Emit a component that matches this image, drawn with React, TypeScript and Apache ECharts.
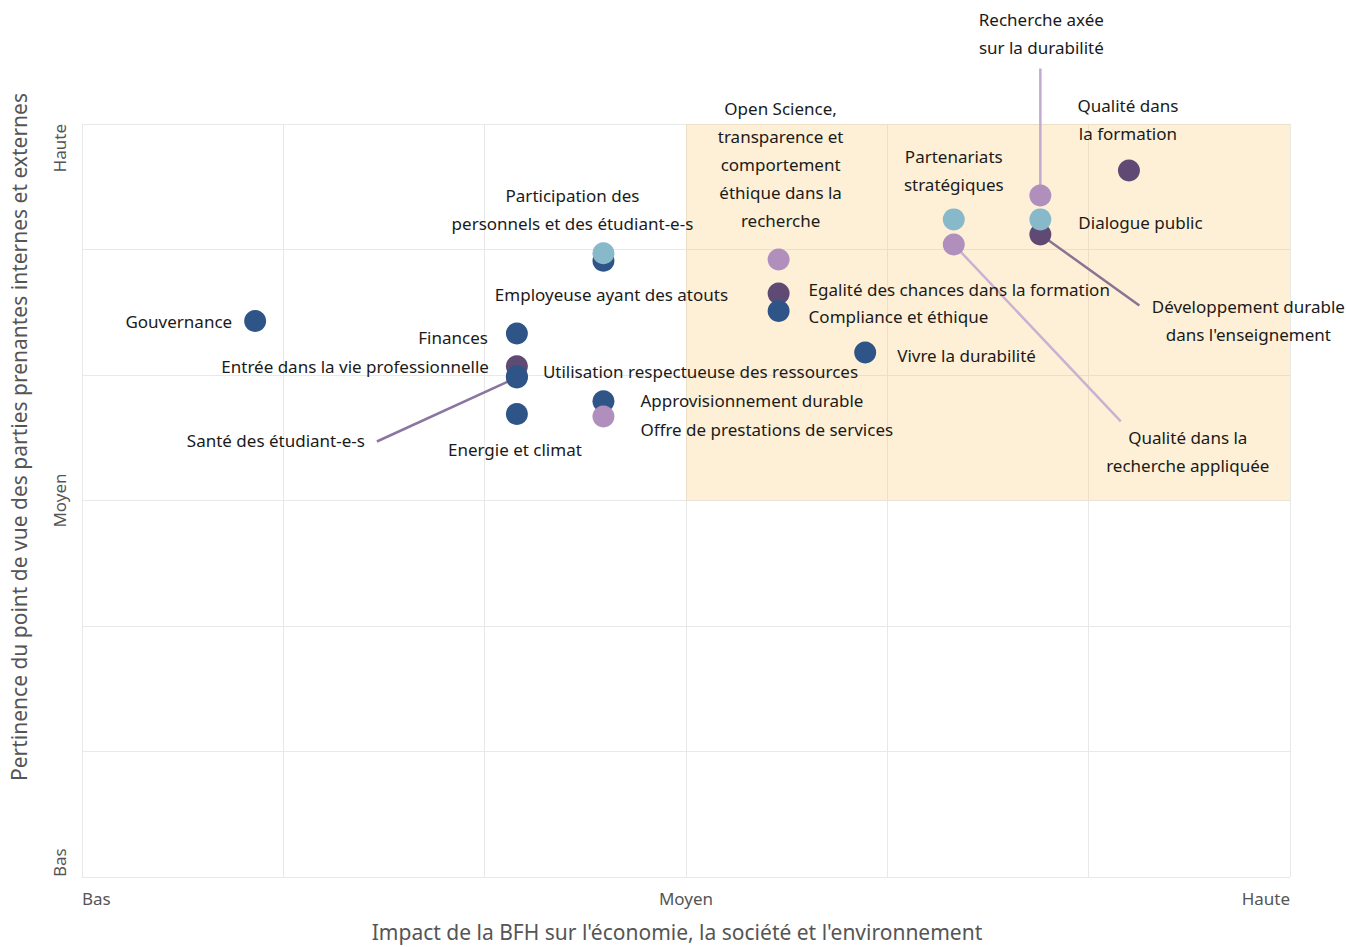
import React, { useEffect, useRef } from "react";
import * as echarts from "echarts";

// ---- Data ----
const labels: string[] = [
  "Gouvernance",
  "Finances",
  "Entrée dans la vie professionnelle",
  "Santé des étudiant-e-s",
  "Utilisation respectueuse des ressources",
  "Energie et climat",
  "Approvisionnement durable",
  "Offre de prestations de services",
  "Employeuse ayant des atouts",
  "Participation des\npersonnels et des étudiant-e-s",
  "Open Science,\ntransparence et\ncomportement\néthique dans la\nrecherche",
  "Egalité des chances dans la formation",
  "Compliance et éthique",
  "Vivre la durabilité",
  "Partenariats\nstratégiques",
  "Qualité dans la\nrecherche appliquée",
  "Recherche axée\nsur la durabilité",
  "Développement durable\ndans l'enseignement",
  "Dialogue public",
  "Qualité dans\nla formation",
];
const impact: number[] = [0.86, 2.16, 2.16, 2.16, 2.16, 2.16, 2.59, 2.59, 2.59, 2.59, 3.46, 3.46, 3.46, 3.89, 4.33, 4.33, 4.76, 4.76, 4.76, 5.2];
const relevance: number[] = [4.43, 4.33, 4.07, 3.98, 3.99, 3.69, 3.79, 3.67, 4.91, 4.97, 4.92, 4.65, 4.51, 4.18, 5.24, 5.04, 5.43, 5.12, 5.24, 5.63];
const groups: string[] = [
  "blue", "blue", "darkPurple", "blue", "blue", "blue", "blue", "lightPurple", "blue", "lightBlue",
  "lightPurple", "darkPurple", "blue", "blue", "lightBlue", "lightPurple", "lightPurple", "darkPurple", "lightBlue", "darkPurple",
];
const axisTicks: Record<number, string> = { 0: "Bas", 3: "Moyen", 6: "Haute" };
const focusArea = { xFrom: 3, xTo: 6, yFrom: 3, yTo: 6 };

// ---- Styles ----
const groupColors: Record<string, string> = {
  blue: "#2f5588",
  darkPurple: "#5f4a74",
  lightPurple: "#b08fbd",
  lightBlue: "#87b9cb",
};
// label offsets (px from point centre)
const labelLayouts: { dx: number; dy: number; align: string }[] = [
  { dx: -23, dy: 0, align: "right" },
  { dx: -29, dy: 4, align: "right" },
  { dx: -28, dy: 0, align: "right" },
  { dx: -152, dy: 63, align: "right" },
  { dx: 26, dy: -5, align: "left" },
  { dx: -2, dy: 36, align: "center" },
  { dx: 37, dy: -1, align: "left" },
  { dx: 37, dy: 13, align: "left" },
  { dx: 8, dy: 34, align: "center" },
  { dx: -31, dy: -44, align: "center" },
  { dx: 2, dy: -95, align: "center" },
  { dx: 30, dy: -4, align: "left" },
  { dx: 30, dy: 6, align: "left" },
  { dx: 32, dy: 3, align: "left" },
  { dx: 0, dy: -49, align: "center" },
  { dx: 234, dy: 207, align: "center" },
  { dx: 1, dy: -162, align: "center" },
  { dx: 208, dy: 86, align: "center" },
  { dx: 38, dy: 3, align: "left" },
  { dx: -1, dy: -51, align: "center" },
];
// leader lines: index of the point, pixel offset of the line end, colour
const leaders: { idx: number; dx: number; dy: number; color: string }[] = [
  { idx: 3, dx: -140, dy: 64, color: "#8a76a0" },
  { idx: 15, dx: 167, dy: 177, color: "#c8b1d2" },
  { idx: 16, dx: 0, dy: -127, color: "#c2aacf" },
  { idx: 17, dx: 99, dy: 71, color: "#8a7393" },
];

const FONT = "Noto Sans";

export default function App() {
  const ref = useRef<HTMLDivElement>(null);
  useEffect(() => {
    if (!ref.current) return;
    const chart = echarts.init(ref.current, undefined, { renderer: "svg" });
    const data = labels.map((l, i) => ({
      name: l,
      value: [impact[i], relevance[i]],
      itemStyle: { color: groupColors[groups[i]], opacity: 1 },
    }));
    const leaderData = leaders.map((ld) => [impact[ld.idx], relevance[ld.idx], ld.dx, ld.dy]);
    const axisCommon = {
      type: "value",
      min: 0,
      max: 6,
      interval: 1,
      axisLine: { show: false },
      axisTick: { show: false },
      splitLine: { show: true, lineStyle: { color: "#e8e8e8", width: 1 } },
    };
    chart.setOption({
      animation: false,
      backgroundColor: "#ffffff",
      textStyle: { fontFamily: FONT },
      grid: { left: 82, right: 56, top: 124, bottom: 70, containLabel: false, outerBoundsMode: "none" },
      xAxis: {
        ...axisCommon,
        axisLabel: {
          formatter: (v: number) => axisTicks[v] ?? "",
          color: "#555555",
          fontSize: 17,
          fontFamily: FONT,
          margin: 13,
          alignMinLabel: "left",
          alignMaxLabel: "right",
        },
      },
      yAxis: {
        ...axisCommon,
        axisLabel: {
          formatter: (v: number) => axisTicks[v] ?? "",
          color: "#555555",
          fontSize: 17,
          fontFamily: FONT,
          rotate: 90,
          margin: 14,
          alignMinLabel: "left",
          alignMaxLabel: "right",
        },
      },
      graphic: [
        {
          type: "text",
          x: 677,
          y: 932,
          style: {
            text: "Impact de la BFH sur l'économie, la société et l'environnement",
            fill: "#555555",
            font: `21px "${FONT}"`,
            textAlign: "center",
            textVerticalAlign: "middle",
          },
        },
        {
          type: "text",
          x: 19,
          y: 437,
          rotation: Math.PI / 2,
          style: {
            text: "Pertinence du point de vue des parties prenantes internes et externes",
            fill: "#555555",
            font: `21px "${FONT}"`,
            textAlign: "center",
            textVerticalAlign: "middle",
          },
        },
        {
          type: "text",
          x: 1022,
          y: 313,
          z: 1,
          style: {
            text: "Something",
            fill: "rgba(255,255,255,0.5)",
            font: `18px "${FONT}"`,
            textAlign: "center",
            textVerticalAlign: "middle",
          },
        },
      ],
      series: [
        {
          type: "custom",
          z: 2,
          silent: true,
          data: leaderData,
          renderItem: (params: any, api: any) => {
            const ld = leaders[params.dataIndex];
            const p = api.coord([api.value(0), api.value(1)]);
            return {
              type: "line",
              shape: { x1: p[0], y1: p[1], x2: p[0] + ld.dx, y2: p[1] + ld.dy },
              style: { stroke: ld.color, lineWidth: 2.5 },
            };
          },
        },
        {
          type: "scatter",
          symbolSize: 22,
          data,
          z: 3,
          label: {
            show: true,
            formatter: (p: any) => p.name,
            color: "#1a1a1a",
            fontSize: 17,
            fontFamily: FONT,
            lineHeight: 28,
          },
          labelLayout: (params: any) => {
            const lay = labelLayouts[params.dataIndex];
            const cx = params.rect.x + params.rect.width / 2;
            const cy = params.rect.y + params.rect.height / 2;
            return {
              x: cx + lay.dx,
              y: cy + lay.dy,
              align: lay.align,
              verticalAlign: "middle",
            };
          },
          emphasis: { disabled: true },
          markArea: {
            silent: true,
            itemStyle: { color: "rgba(253,204,112,0.29)" },
            data: [
              [
                { coord: [focusArea.xFrom, focusArea.yFrom] },
                { coord: [focusArea.xTo, focusArea.yTo] },
              ],
            ],
          },
        },
      ],
    });
    return () => chart.dispose();
  }, []);
  return (
    <div
      ref={ref}
      style={{ position: "fixed", left: 0, top: 0, width: 1346, height: 947 }}
    />
  );
}
